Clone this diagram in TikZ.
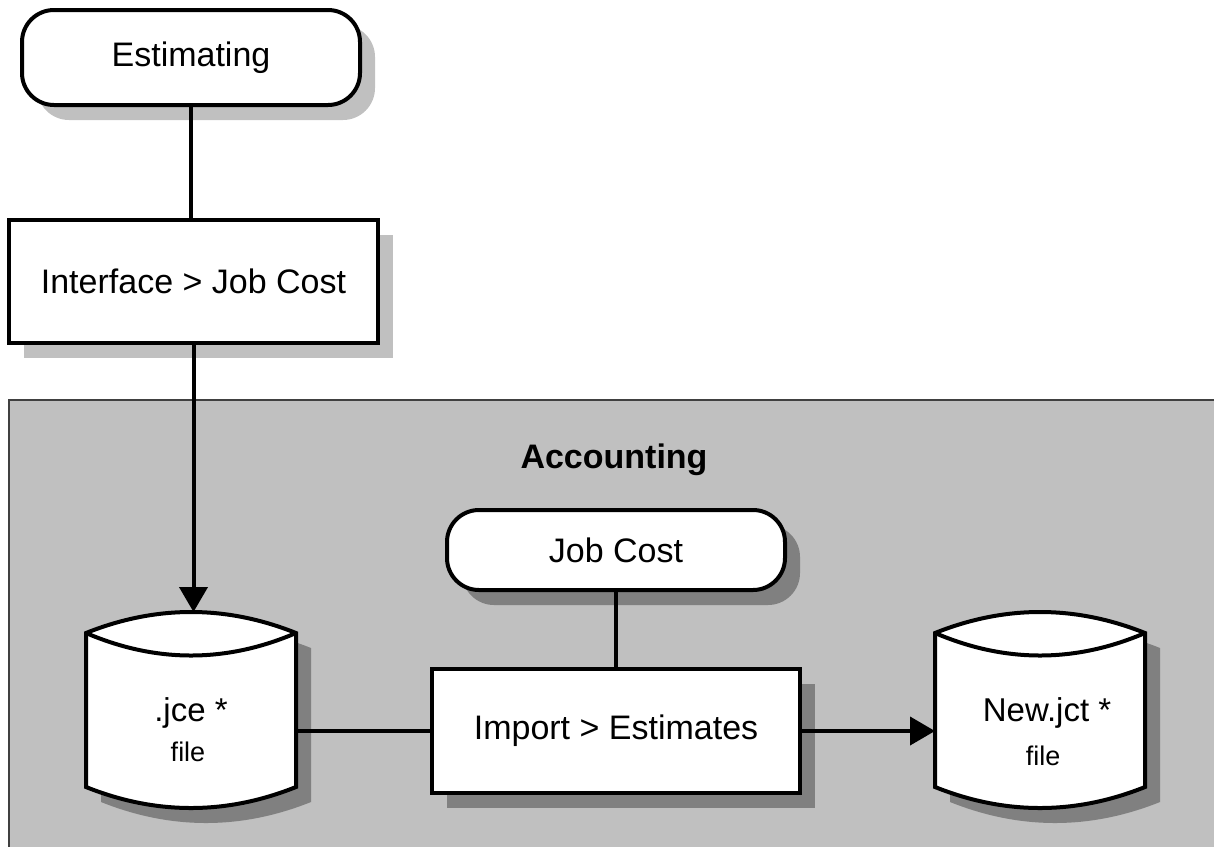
\documentclass[tikz,border=0pt]{standalone}
\usepackage{fontspec}
\setmainfont{Liberation Sans}
\usetikzlibrary{arrows.meta,shadows}
\definecolor{bggray}{HTML}{C0C0C0}
\definecolor{shlight}{HTML}{C0C0C0}
\definecolor{shdark}{HTML}{808080}
\definecolor{edgec}{HTML}{404040}
\begin{document}
\begin{tikzpicture}[x=1pt,y=-1pt,
  every node/.style={font=\fontsize{34}{40}\selectfont, inner sep=0pt, outer sep=0pt},
  stepbox/.style={draw, fill=white, line width=4pt, rectangle},
  termbox/.style={draw, fill=white, line width=4pt, rectangle, rounded corners=32pt},
  lightsh/.style={general shadow={fill=shlight, shadow xshift=15pt, shadow yshift=-15pt}},
  darksh/.style={general shadow={fill=shdark, shadow xshift=15pt, shadow yshift=-15pt}},
  cylnode/.style={rectangle, minimum width=210pt, minimum height=198pt},
  conn/.style={line width=4pt},
  arr/.style={conn, -{Triangle[length=25pt,width=28pt]}},
  smalltext/.style={font=\fontsize{27}{32}\selectfont},
  cylpic/.pic={
    \fill[shdark, shift={(15,15)}] (0,633) .. controls (70,605) and (140,605) .. (210,633)
      -- (210,787) .. controls (140,815) and (70,815) .. (0,787) -- cycle;
    \filldraw[fill=white, line width=4pt, line join=miter] (0,633) .. controls (70,605) and (140,605) .. (210,633)
      -- (210,787) .. controls (140,815) and (70,815) .. (0,787) -- cycle;
    \draw[line width=4pt] (0,633) .. controls (70,663) and (140,663) .. (210,633);
  }
]
\useasboundingbox (0,0) rectangle (1214,846);

% Accounting region
\draw[fill=bggray, draw=edgec, line width=1.5pt] (9,400) rectangle (1230,860);
\node[font=\bfseries\fontsize{34}{40}\selectfont] (acc) at (614,460) {Accounting};

% Estimating part
\node[termbox, lightsh, minimum width=338pt, minimum height=95pt] (est) at (191,57.5) {Estimating};
\node[stepbox, lightsh, minimum width=369pt, minimum height=123pt] (iface) at (193.5,281.5) {Interface > Job Cost};

% Accounting part
\node[termbox, darksh, minimum width=338pt, minimum height=80pt] (jc) at (616,550) {Job Cost};
\node[stepbox, darksh, minimum width=368pt, minimum height=124pt] (imp) at (616,731) {Import > Estimates};

% cylinders
\pic at (86,0) {cylpic};
\pic at (935,0) {cylpic};
\node[cylnode] (jce) at (191,711) {};
\node[cylnode] (jct) at (1040,711) {};
\node[font=\fontsize{33}{38}\selectfont] (jcet) at (191,713) {.jce *};
\node[smalltext] (jcef) at (188,752) {file};
\node[font=\fontsize{33}{38}\selectfont] (jctt) at (1047,713) {New.jct *};
\node[smalltext] (jctf) at (1043,756) {file};

% connectors
\draw[conn] (est.south) -- (est.south |- iface.north);
\draw[arr] (iface.south) -- (iface.south |- jce.north);
\draw[conn] (jc.south) -- (imp.north);
\draw[conn] (imp.west) -- (imp.west -| jce.east);
\draw[arr] (imp.east) -- (imp.east -| jct.west);
\end{tikzpicture}
\end{document}
